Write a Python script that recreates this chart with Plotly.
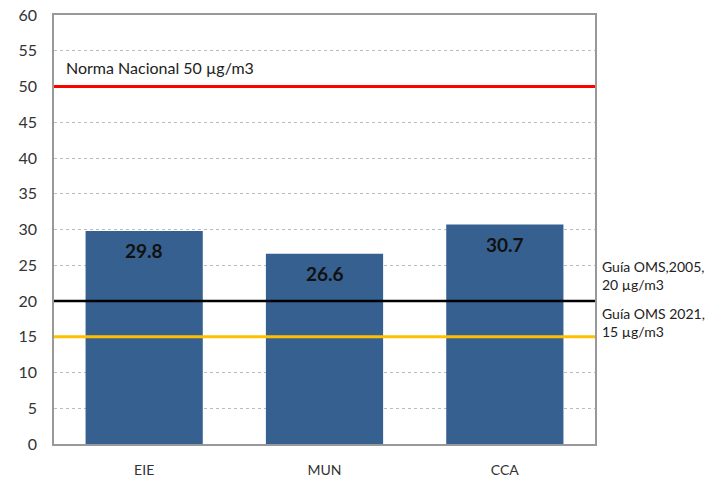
import plotly.graph_objects as go

# PM2.5 annual means by station (µg/m3)
stations = ["EIE", "MUN", "CCA"]
values = [29.8, 26.6, 30.7]
value_labels = ["29.8", "26.6", "30.7"]

# Reference limits
norma_nacional = 50
guia_oms_2005 = 20
guia_oms_2021 = 15

y_ticks = [0, 5, 10, 15, 20, 25, 30, 35, 40, 45, 50, 55, 60]

FONT = "Lato, 'Open Sans', sans-serif"

fig = go.Figure()
fig.add_trace(go.Bar(
    x=stations,
    y=values,
    marker=dict(color="#36608F", line=dict(width=0)),
    width=0.65,
    showlegend=False,
    hoverinfo="x+y",
))

# Value labels placed just below each bar top
for st, v, lab in zip(stations, values, value_labels):
    fig.add_annotation(x=st, y=v, text=f"<b>{lab}</b>", showarrow=False,
                       yanchor="middle", yshift=-20,
                       font=dict(family=FONT, size=19, color="#111111"))

# Reference lines
fig.add_shape(type="line", xref="paper", yref="y", x0=0, x1=1,
              y0=norma_nacional, y1=norma_nacional,
              line=dict(color="#FF0000", width=3))
fig.add_shape(type="line", xref="paper", yref="y", x0=0, x1=1,
              y0=guia_oms_2005, y1=guia_oms_2005,
              line=dict(color="#000000", width=2.5))
fig.add_shape(type="line", xref="paper", yref="y", x0=0, x1=1,
              y0=guia_oms_2021, y1=guia_oms_2021,
              line=dict(color="#FFC000", width=3))

fig.add_annotation(xref="paper", yref="y", x=0.018, y=norma_nacional + 1.0,
                   text="Norma Nacional 50 µg/m3", showarrow=False,
                   xanchor="left", yanchor="bottom",
                   font=dict(family=FONT, size=16, color="#222222"))
fig.add_annotation(xref="paper", yref="y", x=1.01, y=guia_oms_2005 + 0.9,
                   text="Guía OMS,2005,<br>20 µg/m3", showarrow=False,
                   xanchor="left", yanchor="bottom", align="left",
                   font=dict(family=FONT, size=14, color="#222222"))
fig.add_annotation(xref="paper", yref="y", x=1.01, y=guia_oms_2021 - 0.7,
                   text="Guía OMS 2021,<br>15 µg/m3", showarrow=False,
                   xanchor="left", yanchor="bottom", align="left",
                   font=dict(family=FONT, size=14, color="#222222"))

fig.update_layout(
    width=718, height=477,
    margin=dict(l=54, r=123, t=15, b=33),
    paper_bgcolor="white",
    plot_bgcolor="white",
    font=dict(family=FONT, color="#333333"),
)
fig.update_xaxes(
    automargin=False,
    showline=True, linecolor="#999999", linewidth=1.5, mirror=True,
    showgrid=False, ticks="", ticklabelstandoff=12,
    tickfont=dict(family=FONT, size=14, color="#333333"),
)
fig.update_yaxes(
    automargin=False,
    range=[0, 60], tickvals=y_ticks,
    showline=True, linecolor="#999999", linewidth=1.5, mirror=True,
    showgrid=True, gridcolor="#BBBBBB", griddash="dot", gridwidth=1,
    zeroline=False, ticks="", ticklabelstandoff=12,
    tickfont=dict(family=FONT, size=16, color="#333333"),
)

fig.write_html("out.html")
